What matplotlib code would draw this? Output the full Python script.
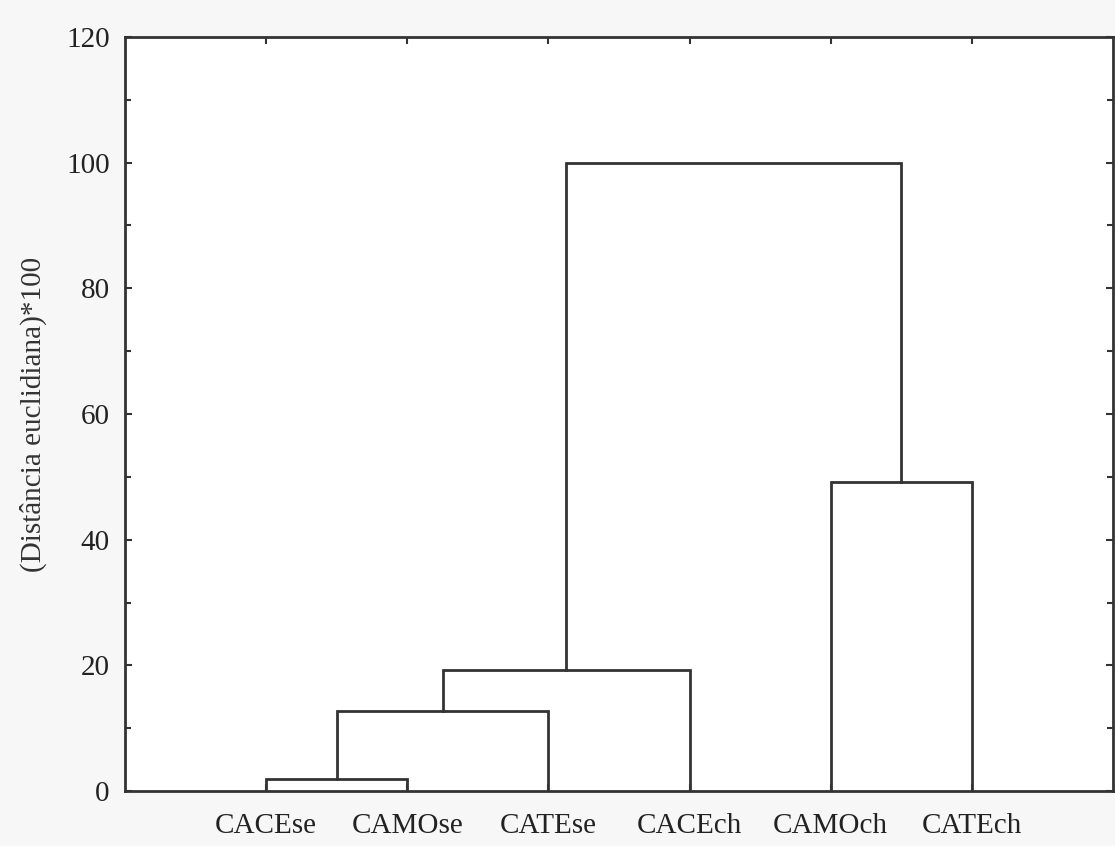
import matplotlib
matplotlib.use("Agg")
import matplotlib.pyplot as plt
from matplotlib.ticker import MultipleLocator

# leaves in plot order
leaves = ["CACEse", "CAMOse", "CATEse", "CACEch", "CAMOch", "CATEch"]
# merges: (left cluster, right cluster, height); ids 0-5 are leaves, 6+ new clusters
merge_left = [0, 6, 7, 4, 8]
merge_right = [1, 2, 3, 5, 9]
merge_height = [1.9, 12.7, 19.2, 49.2, 100.0]

plt.rcParams["font.family"] = ["Liberation Serif", "DejaVu Serif"]
plt.rcParams["font.size"] = 21

fig = plt.figure(figsize=(11.15, 8.46), dpi=100, facecolor="#f7f7f7")
ax = fig.add_axes([0.1121, 0.065, 0.8861, 0.8913])
ax.set_facecolor("white")

col = "#333333"
pos = {i: (i + 1, 0.0) for i in range(len(leaves))}
for k, (a, b, h) in enumerate(zip(merge_left, merge_right, merge_height)):
    xa, ya = pos[a]
    xb, yb = pos[b]
    ax.plot([xa, xa, xb, xb], [ya, h, h, yb], color=col, lw=2, solid_joinstyle="miter")
    pos[len(leaves) + k] = ((xa + xb) / 2, h)

ax.set_xlim(0, 7)
ax.set_ylim(0, 120)
ax.set_xticks(range(1, len(leaves) + 1))
ax.set_xticklabels(leaves)
ax.yaxis.set_major_locator(MultipleLocator(20))
ax.yaxis.set_minor_locator(MultipleLocator(10))
ax.tick_params(which="both", direction="in", top=True, right=True, color=col,
               width=1.5, labelcolor="#222222")
ax.tick_params(which="major", length=5, pad=11)
ax.tick_params(which="minor", length=4)
ax.tick_params(axis="x", pad=16)
for s in ax.spines.values():
    s.set_linewidth(2)
    s.set_color(col)
ax.set_ylabel("(Distância euclidiana)*100", color="#333333", labelpad=14)

fig.savefig("out.png", dpi=100, facecolor=fig.get_facecolor())
